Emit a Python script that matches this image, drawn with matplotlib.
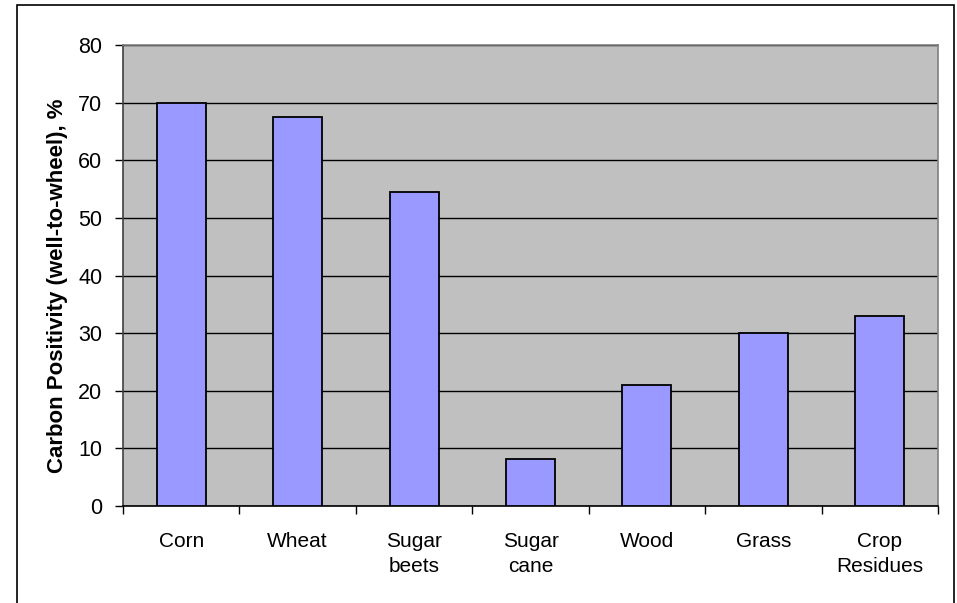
import matplotlib
matplotlib.use("Agg")
import matplotlib.pyplot as plt
from matplotlib.patches import Rectangle
import numpy as np

categories = ["Corn", "Wheat", "Sugar\nbeets", "Sugar\ncane", "Wood", "Grass", "Crop\nResidues"]
values = [70, 67.5, 54.5, 8.2, 21, 30, 33]
y_ticks = [0, 10, 20, 30, 40, 50, 60, 70, 80]

plt.rcParams["font.family"] = ["Liberation Sans", "DejaVu Sans"]

W, H = 957, 603
fig = plt.figure(figsize=(W / 100, H / 100), dpi=100)
fig.patch.set_facecolor("white")

# outer chart frame
fig.add_artist(Rectangle((17 / W, -0.05), (954 - 17) / W, 1.05 - 5 / H,
                         transform=fig.transFigure, fill=False,
                         edgecolor="black", linewidth=1.2))

left, right, top, bottom = 123, 938, 45, 506
ax = fig.add_axes([left / W, 1 - bottom / H, (right - left) / W, (bottom - top) / H])
ax.set_facecolor("#C0C0C0")

x = np.arange(len(categories))
ax.bar(x, values, width=0.42, color="#9999FF", edgecolor="black", linewidth=1.3, zorder=3)

ax.set_xlim(-0.5, len(categories) - 0.5)
ax.set_ylim(0, 80)
ax.set_yticks(y_ticks)
ax.set_yticklabels([str(t) for t in y_ticks], fontsize=15.5)
ax.yaxis.grid(True, color="black", linewidth=1.0, zorder=1)
ax.set_axisbelow(True)

ax.set_xticks(x)
ax.set_xticklabels(categories, fontsize=15, linespacing=1.35)
ax.tick_params(axis="x", which="major", length=0, pad=19)
ax.set_xticks(np.arange(-0.5, len(categories), 1.0), minor=True)
ax.tick_params(axis="x", which="minor", length=6, width=1, color="black", direction="out")
ax.tick_params(axis="y", length=6, width=1, color="black", direction="out", pad=9)

for s in ["top", "right"]:
    ax.spines[s].set_color("#808080")
    ax.spines[s].set_linewidth(1.2)
ax.spines["left"].set_color("#404040")
ax.spines["bottom"].set_color("black")
for s in ["left", "bottom"]:
    ax.spines[s].set_linewidth(1.2)

ax.set_ylabel("Carbon Positivity (well-to-wheel), %", fontsize=16, fontweight="bold")
ax.yaxis.set_label_coords(-0.0675, 0.477)

fig.savefig("out.png", dpi=100)
